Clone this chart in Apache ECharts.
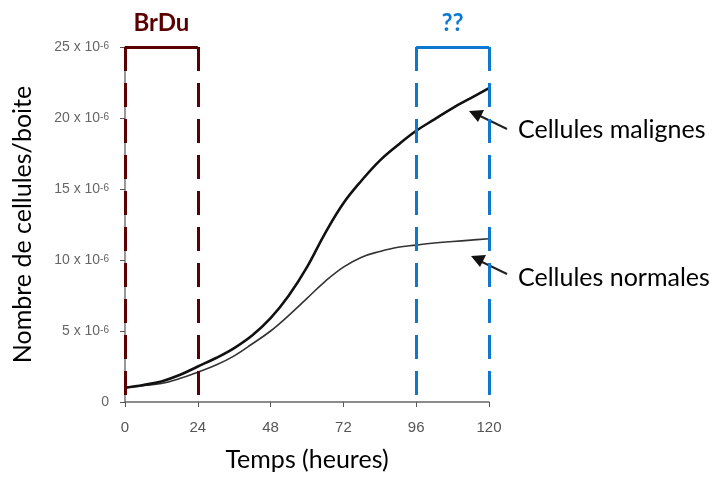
<!DOCTYPE html>
<html><head><meta charset="utf-8">
<script src="https://cdn.jsdelivr.net/npm/echarts@6/dist/echarts.min.js"></script>
<style>html,body{margin:0;padding:0;background:#fff}#c{width:713px;height:477px}</style>
</head><body><div id="c"></div>
<script>
const hours = [0,6,12,18,24,30,36,42,48,54,60,66,72,78,84,90,96,102,108,114,120];
const malignes = [1.0,1.2,1.45,1.9,2.5,3.1,3.8,4.7,5.9,7.5,9.5,11.9,14.0,15.6,17.0,18.1,19.1,19.9,20.7,21.4,22.1];
const normales = [1.0,1.15,1.3,1.65,2.1,2.6,3.25,4.1,5.0,6.1,7.3,8.5,9.5,10.2,10.6,10.9,11.05,11.2,11.3,11.4,11.5];
const xTicks = [0,24,48,72,96,120];
const yTicks = [0,5,10,15,20,25];
const brduWindow = [0,24];
const unknownWindow = [96,120];
const yTop = 25;

const chart = echarts.init(document.getElementById('c'));
const dark = '#5a0000', blue = '#0c78d0';
function box(win, color, label){
  const dash = {type:[24,12], width:3, color:color};
  return {
    symbol:['none','none'], silent:true, animation:false,
    label:{show:false},
    data:[
      [{coord:[win[0],yTop], lineStyle:dash},{coord:[win[0],0]}],
      [{coord:[win[1],yTop], lineStyle:dash},{coord:[win[1],0]}],
      [{coord:[win[0],yTop], lineStyle:{type:'solid',width:3,color:color},
        label:{show:true, position:'middle', formatter:label, distance:12, color:color,
          fontFamily:'Lato', fontWeight:'bold', fontSize:24}},
       {coord:[win[1],yTop]}]
    ]
  };
}
const ser = (d) => hours.map((h,i)=>[h,d[i]]);
chart.setOption({
  animation:false,
  grid:{left:125, right:224, top:47, bottom:72},
  xAxis:{type:'value', min:0, max:120, interval:24,
    axisLine:{lineStyle:{color:'#666', width:1.5}},
    axisTick:{show:true, length:5, lineStyle:{color:'#555'}},
    axisLabel:{color:'#555', fontSize:15, fontFamily:'Liberation Sans', margin:18,
      formatter:v=> xTicks.includes(v)? String(v):''},
    splitLine:{show:false},
    name:'Temps (heures)', nameLocation:'middle', nameGap:45,
    nameTextStyle:{fontFamily:'Lato', fontSize:25, color:'#000'}},
  yAxis:{type:'value', min:0, max:25, interval:5,
    axisLine:{show:true, lineStyle:{color:'#777', width:1.5}},
    axisTick:{show:true, length:5, lineStyle:{color:'#555'}},
    axisLabel:{color:'#666', fontSize:14, fontFamily:'Liberation Sans', margin:16,
      formatter:v=> v===0 ? '0' : (yTicks.includes(v) ? v+' x 10{sup|-6}' : ''),
      rich:{sup:{fontSize:10, color:'#666', fontFamily:'Liberation Sans', verticalAlign:'bottom', padding:[0,0,3,0]}}},
    splitLine:{show:false},
    name:'Nombre de cellules/boite', nameLocation:'middle', nameGap:90, nameRotate:90,
    nameTextStyle:{fontFamily:'Lato', fontSize:25, color:'#000'}},
  series:[
    {type:'line', name:'Cellules normales', data:ser(normales), smooth:0.4, showSymbol:false,
      lineStyle:{color:'#333', width:1.6}, z:3},
    {type:'line', name:'Cellules malignes', data:ser(malignes), smooth:0.4, showSymbol:false,
      lineStyle:{color:'#111', width:2.6}, z:3},
    {type:'line', data:[], markLine:box(brduWindow, dark, 'BrDu'), z:5},
    {type:'line', data:[], markLine:box(unknownWindow, blue, '??'), z:5}
  ],
  graphic:[
    {type:'line', shape:{x1:507,y1:129,x2:478,y2:115}, style:{stroke:'#222', lineWidth:2}},
    {type:'polygon', shape:{points:[[469,111],[484,110],[478,122]]}, style:{fill:'#111'}},
    {type:'line', shape:{x1:507,y1:274,x2:480,y2:261}, style:{stroke:'#222', lineWidth:2}},
    {type:'polygon', shape:{points:[[471,256],[486,255],[480,267]]}, style:{fill:'#111'}},
    {type:'text', left:518, top:117, style:{text:'Cellules malignes', font:'25px Lato', fill:'#000'}},
    {type:'text', left:518, top:265, style:{text:'Cellules normales', font:'25px Lato', fill:'#000'}}
  ]
});
</script></body></html>
